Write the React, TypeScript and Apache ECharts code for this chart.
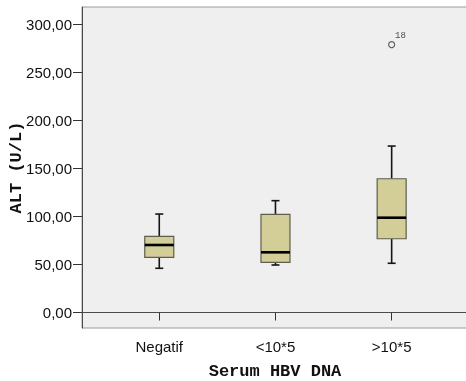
import React, { useEffect, useRef } from "react";
import * as echarts from "echarts";

const categories = ["Negatif", "<10*5", ">10*5"];
const categoryPos = [1, 2, 3];
const whiskerLow = [46.0, 49.4, 51.2];
const q1 = [57.4, 52.2, 76.7];
const median = [70.2, 62.6, 98.6];
const q3 = [79.2, 102.1, 139.1];
const whiskerHigh = [102.4, 116.3, 173.1];

const outlierPos = [3];
const outlierValue = [278.5];
const outlierLabel = ["18"];

const yTicks = [0, 50, 100, 150, 200, 250, 300];

const SANS = "'Liberation Sans', Arial, sans-serif";
const MONO = "'Liberation Mono', 'Courier New', monospace";

export default function App() {
  const ref = useRef<HTMLDivElement>(null);

  useEffect(() => {
    if (!ref.current) return;
    const chart = echarts.init(ref.current, null, { renderer: "svg" });

    const boxData = categoryPos.map((p, i) => [
      p,
      whiskerLow[i],
      q1[i],
      median[i],
      q3[i],
      whiskerHigh[i],
    ]);
    const outData = outlierPos.map((p, i) => ({
      value: [p, outlierValue[i]],
      label: outlierLabel[i],
    }));

    chart.setOption({
      animation: false,
      grid: {
        left: 82,
        top: 7,
        right: -2,
        bottom: 53,
        containLabel: false,
        outerBoundsMode: "none",
        show: true,
        backgroundColor: "#efefef",
        borderColor: "#9a9a9a",
        borderWidth: 1,
      },
      xAxis: {
        type: "value",
        min: 0.335,
        max: 3.657,
        name: "Serum HBV DNA",
        nameLocation: "middle",
        nameGap: 35,
        nameMoveOverlap: false,
        nameTextStyle: {
          fontFamily: MONO,
          fontWeight: "bold",
          fontSize: 17,
          color: "#111",
        },
        splitLine: { show: false },
        axisLine: { show: true, lineStyle: { color: "#4a4a4a", width: 1 } },
        axisTick: {
          show: true,
          customValues: categoryPos,
          length: 8,
          lineStyle: { color: "#333", width: 1 },
        },
        axisLabel: {
          customValues: categoryPos,
          formatter: (v: number) => categories[Math.round(v) - 1] ?? "",
          fontFamily: SANS,
          fontSize: 15,
          color: "#111",
          margin: 11,
        },
      },
      yAxis: {
        type: "value",
        min: -16.1,
        max: 317.7,
        name: "ALT (U/L)",
        nameLocation: "middle",
        nameGap: 57,
        nameMoveOverlap: false,
        nameTextStyle: {
          fontFamily: MONO,
          fontWeight: "bold",
          fontSize: 17,
          color: "#111",
        },
        splitLine: { show: false },
        axisLine: { show: true, lineStyle: { color: "#4a4a4a", width: 1 } },
        axisTick: {
          show: true,
          customValues: yTicks,
          length: 9,
          lineStyle: { color: "#333", width: 1 },
        },
        axisLabel: {
          customValues: yTicks,
          formatter: (v: number) => v.toFixed(2).replace(".", ","),
          fontFamily: SANS,
          fontSize: 15,
          color: "#111",
          margin: 10,
        },
      },
      series: [
        {
          type: "custom",
          clip: false,
          data: boxData,
          encode: { x: 0, y: [1, 2, 3, 4, 5] },
          renderItem: (params: any, api: any) => {
            const x = api.value(0);
            const pLow = api.coord([x, api.value(1)]);
            const pQ1 = api.coord([x, api.value(2)]);
            const pMed = api.coord([x, api.value(3)]);
            const pQ3 = api.coord([x, api.value(4)]);
            const pHigh = api.coord([x, api.value(5)]);
            const cx = pMed[0];
            const half = 14.5;
            const cap = 4;
            const wStyle = { stroke: "#151515", lineWidth: 1.6 };
            return {
              type: "group",
              children: [
                {
                  type: "line",
                  shape: { x1: cx, y1: pQ3[1], x2: cx, y2: pHigh[1] },
                  style: wStyle,
                },
                {
                  type: "line",
                  shape: { x1: cx, y1: pQ1[1], x2: cx, y2: pLow[1] },
                  style: wStyle,
                },
                {
                  type: "line",
                  shape: { x1: cx - cap, y1: pHigh[1], x2: cx + cap, y2: pHigh[1] },
                  style: wStyle,
                },
                {
                  type: "line",
                  shape: { x1: cx - cap, y1: pLow[1], x2: cx + cap, y2: pLow[1] },
                  style: wStyle,
                },
                {
                  type: "rect",
                  shape: {
                    x: cx - half,
                    y: pQ3[1],
                    width: half * 2,
                    height: pQ1[1] - pQ3[1],
                  },
                  style: { fill: "#d3cd97", stroke: "#5e5e50", lineWidth: 1.2 },
                },
                {
                  type: "line",
                  shape: { x1: cx - half, y1: pMed[1], x2: cx + half, y2: pMed[1] },
                  style: { stroke: "#000", lineWidth: 2.6 },
                },
              ],
            };
          },
        },
        {
          type: "scatter",
          data: outData,
          symbol: "circle",
          symbolSize: 6,
          itemStyle: { color: "rgba(0,0,0,0)", borderColor: "#333", borderWidth: 1.1 },
          label: {
            show: true,
            formatter: (p: any) => p.data.label,
            position: [7, -5],
            align: "left",
            verticalAlign: "middle",
            fontFamily: MONO,
            fontSize: 9,
            color: "#222",
          },
        },
      ],
    });

    return () => chart.dispose();
  }, []);

  return (
    <div
      ref={ref}
      style={{ position: "fixed", left: 0, top: 0, width: 466, height: 381 }}
    />
  );
}
